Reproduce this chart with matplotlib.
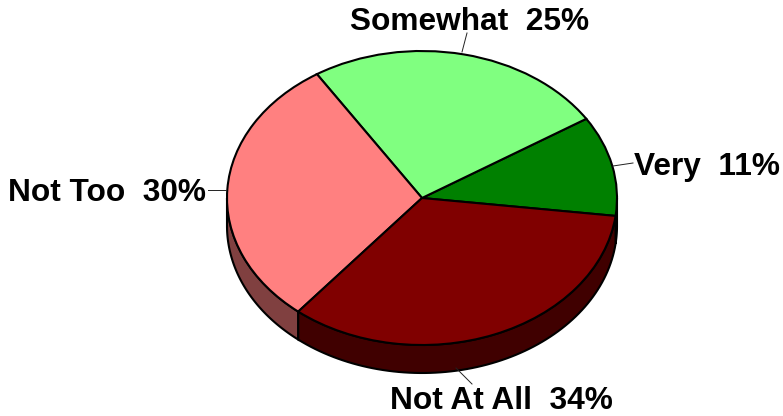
import numpy as np
import matplotlib
matplotlib.use("Agg")
import matplotlib.pyplot as plt

labels = ["Very", "Somewhat", "Not Too", "Not At All"]
values = [11, 25, 30, 34]
top_colors = ["#008000", "#80FF80", "#FF8080", "#800000"]
side_colors = ["#004000", "#408040", "#804040", "#400000"]
label_text = ["Very  11%", "Somewhat  25%", "Not Too  30%", "Not At All  34%"]

W, H = 783, 416
cx, cy, rx, ry, depth = 422, 198, 195, 147, 28
start = -7.0

fig = plt.figure(figsize=(W/100, H/100), dpi=100)
ax = fig.add_axes([0, 0, 1, 1])
wedges, _ = ax.pie(values, colors=top_colors, startangle=start, counterclock=True,
                   radius=1, center=(0, 0), frame=True,
                   wedgeprops=dict(edgecolor="black", linewidth=1.5, zorder=3))
ax.set_aspect("auto")
ax.set_xlim(-cx/rx, (W-cx)/rx)
ax.set_ylim((cy-H)/ry, cy/ry)
ax.axis("off")

d = depth/ry
edges = start + np.cumsum([0] + values)*3.6
for i in range(len(values)):
    for lo, hi in [(edges[i], edges[i+1]), (edges[i]-360, edges[i+1]-360)]:
        a = max(lo, -180)
        b = min(hi, 0)
        if b <= a:
            continue
        t = np.radians(np.linspace(a, b, 80))
        x = np.cos(t)
        y = np.sin(t)
        ax.fill(np.r_[x, x[::-1]], np.r_[y, y[::-1]-d], facecolor=side_colors[i],
                edgecolor="black", linewidth=1.5, zorder=2)

positions = [(634, 167, "left"), (470, 22, "center"), (206, 193, "right"), (501, 401, "center")]
leaders = [((613, 166), (633, 163)), ((462, 52), (467, 33)), ((226, 190), (208, 190)), ((456, 368), (472, 384))]
def to_data(px, py):
    return (px-cx)/rx, (cy-py)/ry
for txt, (px, py, ha), (p0, p1) in zip(label_text, positions, leaders):
    x, y = to_data(px, py)
    ax.text(x, y, txt, ha=ha, va="center", fontsize=22.8, fontweight="bold",
            family="Liberation Sans", color="black", zorder=5, clip_on=False)
    a, b = to_data(*p0), to_data(*p1)
    ax.plot([a[0], b[0]], [a[1], b[1]], color="#222222", lw=0.7, zorder=4)

fig.savefig("out.png", dpi=100, facecolor="white")
